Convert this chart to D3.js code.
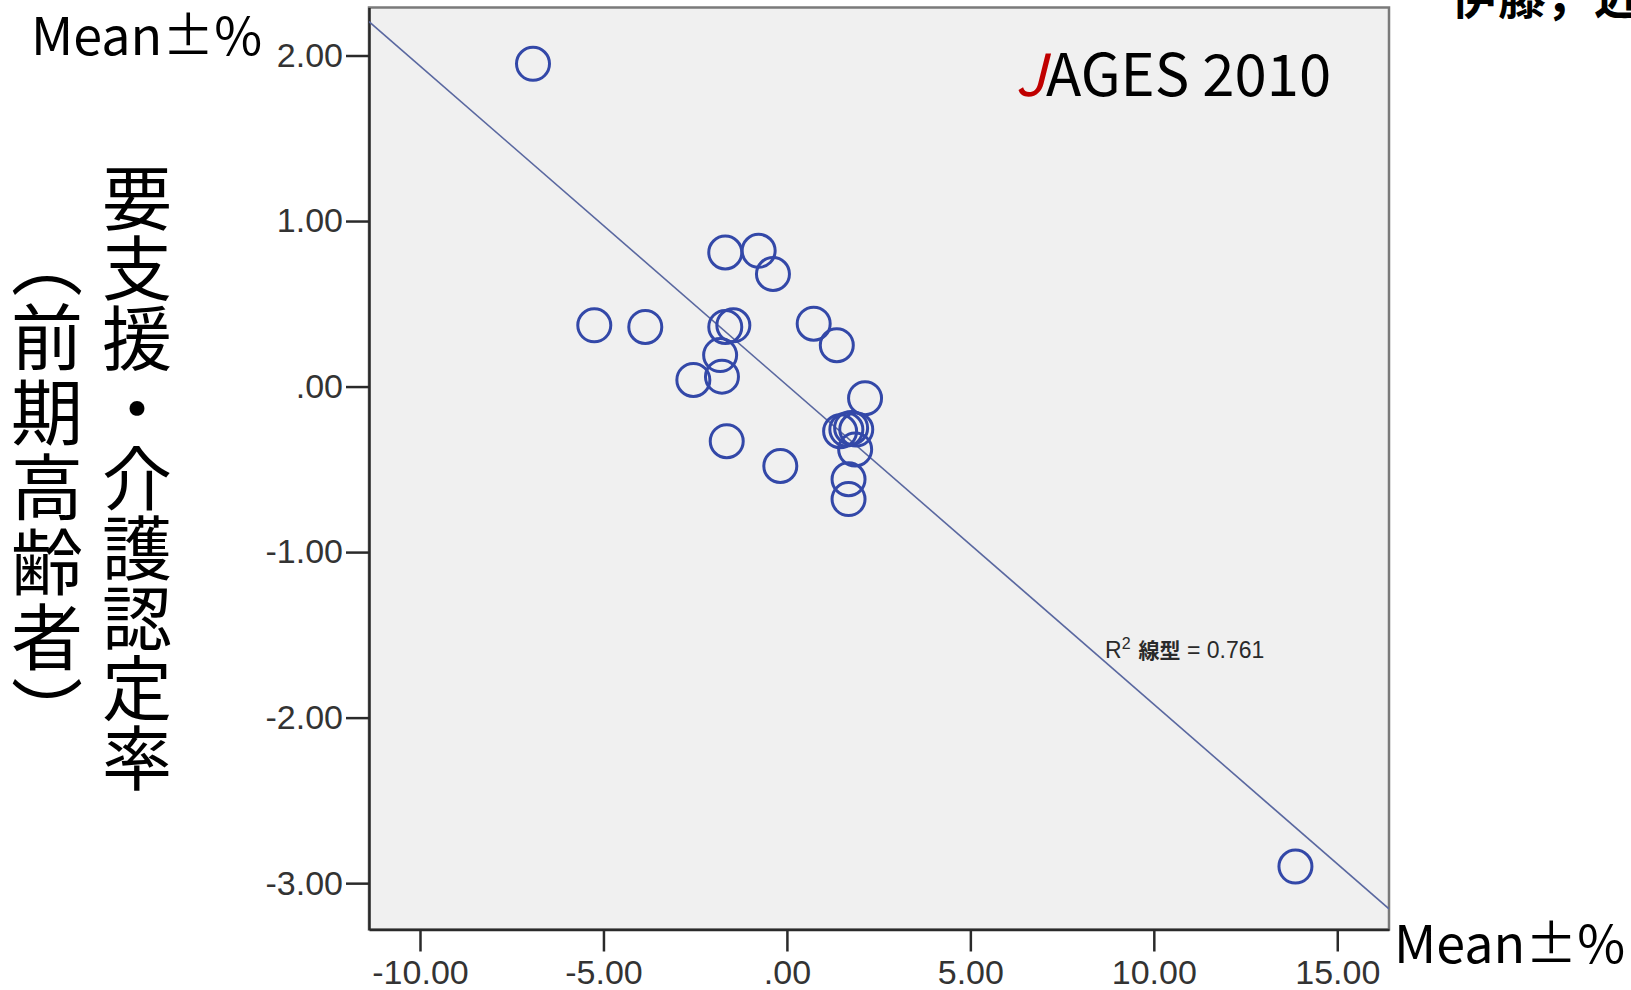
<!DOCTYPE html>
<html>
<head>
<meta charset="utf-8">
<script src="https://cdn.jsdelivr.net/npm/d3@7"></script>
<style>
  body { margin: 0; background: #fff; }
  svg { display: block; }
</style>
</head>
<body>
<svg id="chart" width="1631" height="990"></svg>
<script>
// data (x = 変化 %, y = 要支援・介護認定率 %)
const xVals = [-6.92, -5.25, -3.86, -1.68, -0.77, -0.38, -1.68, -1.46, -1.82, -2.55, -1.77, -1.64,
  -0.18, 0.73, 1.36, 2.13, 1.45, 1.62, 1.75, 1.89, 1.86, 1.68, 1.68, 13.86];
const yVals = [1.95, 0.37, 0.36, 0.81, 0.82, 0.68, 0.36, 0.37, 0.19, 0.04, 0.06, -0.33,
  -0.48, 0.38, 0.25, -0.07, -0.27, -0.26, -0.25, -0.26, -0.38, -0.56, -0.68, -2.90];
const xTicks = [-10, -5, 0, 5, 10, 15];
const yTicks = [-3, -2, -1, 0, 1, 2];
const xDomain = [-11.39, 16.41];
const yDomain = [-3.28, 2.29];

const svg = d3.select("#chart");
const jp = "'Noto Sans CJK JP', 'Noto Sans', sans-serif";
const arial = "'Liberation Sans', Arial, sans-serif";

const plotL = 369, plotR = 1389, plotT = 7.5, plotB = 929.5;

const x = d3.scaleLinear().domain(xDomain).range([plotL, plotR]);
const y = d3.scaleLinear().domain(yDomain).range([plotB, plotT]);

// spss style labels: .00, 2.00, -1.00 (plain hyphen)
function fmt(v) {
  return d3.format(".2f")(v).replace("\u2212", "-").replace(/^(-?)0\./, "$1.");
}

// plot background
svg.append("rect")
  .attr("x", plotL).attr("y", plotT)
  .attr("width", plotR - plotL).attr("height", plotB - plotT)
  .attr("fill", "#f0f0f0")
  .attr("stroke", "#7a7a7a")
  .attr("stroke-width", 2.5);

// axes
const yAxis = svg.append("g")
  .attr("transform", `translate(${plotL},0)`)
  .call(d3.axisLeft(y).tickValues(yTicks).tickFormat(fmt)
    .tickSize(23).tickSizeOuter(0).tickPadding(3));
const xAxis = svg.append("g")
  .attr("transform", `translate(0,${plotB})`)
  .call(d3.axisBottom(x).tickValues(xTicks).tickFormat(fmt)
    .tickSize(22).tickSizeOuter(0).tickPadding(8));

[yAxis, xAxis].forEach(function (g) {
  g.select(".domain").attr("stroke", "#2a2a2a").attr("stroke-width", 2.5);
  g.selectAll(".tick line").attr("stroke", "#2a2a2a").attr("stroke-width", 2.5);
  g.selectAll(".tick text")
    .attr("fill", "#333")
    .style("font-family", arial)
    .style("font-size", "34px");
});
xAxis.selectAll(".tick text").attr("dy", "0.71em");

// fit line (least squares from the points)
const mx = d3.mean(xVals), my = d3.mean(yVals);
let sxy = 0, sxx = 0;
xVals.forEach(function (v, i) {
  sxy += (v - mx) * (yVals[i] - my);
  sxx += (v - mx) * (v - mx);
});
const slope = sxy / sxx;
const icpt = my - slope * mx;

svg.append("clipPath").attr("id", "plotClip")
  .append("rect")
  .attr("x", plotL).attr("y", plotT)
  .attr("width", plotR - plotL).attr("height", plotB - plotT);

svg.append("line")
  .attr("clip-path", "url(#plotClip)")
  .attr("x1", x(xDomain[0])).attr("y1", y(icpt + slope * xDomain[0]))
  .attr("x2", x(xDomain[1])).attr("y2", y(icpt + slope * xDomain[1]))
  .attr("stroke", "#5a68a0")
  .attr("stroke-width", 1.6);

// points
svg.append("g")
  .selectAll("circle")
  .data(xVals)
  .enter()
  .append("circle")
  .attr("cx", function (d) { return x(d); })
  .attr("cy", function (d, i) { return y(yVals[i]); })
  .attr("r", 16.5)
  .attr("fill", "none")
  .attr("stroke", "#3348a8")
  .attr("stroke-width", 3);

// R2 label
const r2 = svg.append("text")
  .attr("x", 1105).attr("y", 658)
  .attr("fill", "#2a2a2a")
  .style("font-family", arial)
  .style("font-size", "23px");
r2.append("tspan").text("R");
r2.append("tspan").attr("dy", -9).style("font-size", "16px").text("2");
r2.append("tspan").attr("dy", 9).attr("dx", 8).style("font-family", jp).style("font-weight", "bold").style("font-size", "21px").text("線型");
r2.append("tspan").text(" = 0.761");

// JAGES 2010
const jt = svg.append("text")
  .attr("x", 1015).attr("y", 96)
  .style("font-family", jp)
  .style("font-size", "58px");
jt.append("tspan").attr("fill", "#c00000").style("font-style", "italic").text("J");
jt.append("tspan").attr("fill", "#000").text("AGES 2010");

// Mean±% labels
svg.append("text")
  .attr("x", 31).attr("y", 55)
  .style("font-family", jp)
  .style("font-size", "52px")
  .text("Mean±%");
svg.append("text")
  .attr("x", 1394).attr("y", 963)
  .style("font-family", jp)
  .style("font-size", "52px")
  .text("Mean±%");

// y title, written vertically
svg.append("text")
  .attr("x", 137).attr("y", 163)
  .style("writing-mode", "vertical-rl")
  .style("font-family", jp)
  .style("font-size", "70px")
  .text("要支援・介護認定率");
svg.append("text")
  .attr("x", 47).attr("y", 226)
  .style("writing-mode", "vertical-rl")
  .style("font-family", jp)
  .style("font-size", "72px")
  .style("letter-spacing", "3px")
  .text("（前期高齢者）");

// cropped author note, top right
svg.append("text")
  .attr("x", 1450).attr("y", 14)
  .style("font-family", jp)
  .style("font-weight", "bold")
  .style("font-size", "48px")
  .text("伊藤，近藤");
</script>
</body>
</html>
